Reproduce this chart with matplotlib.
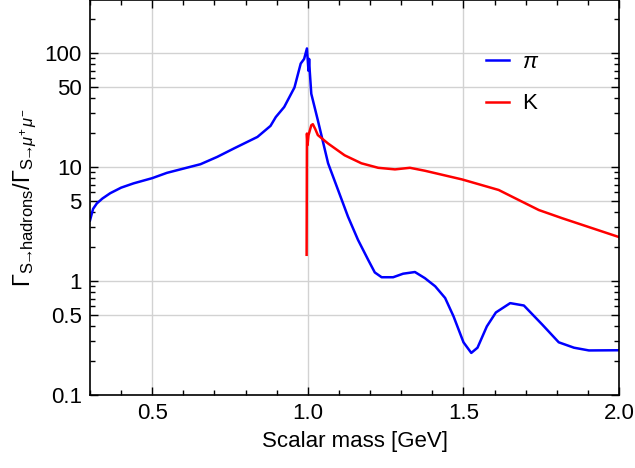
"""Scalar decay width ratio into pions and kaons vs. scalar mass."""

import matplotlib

matplotlib.use("Agg")

import matplotlib.pyplot as plt
from matplotlib.ticker import FixedLocator, LogLocator, NullFormatter

plt.rcParams["font.family"] = ["Liberation Sans", "DejaVu Sans"]
plt.rcParams["mathtext.fontset"] = "custom"
plt.rcParams["mathtext.rm"] = "Liberation Sans"
plt.rcParams["mathtext.it"] = "Liberation Sans:italic"
plt.rcParams["mathtext.sf"] = "Liberation Sans"

# values
pi_mass = [0.300, 0.310, 0.322, 0.340, 0.365, 0.400, 0.440, 0.500, 0.547, 0.600,
           0.655, 0.709, 0.763, 0.838, 0.880, 0.897, 0.924, 0.957, 0.977, 0.988,
           0.997, 1.002, 1.004, 1.006, 1.011, 1.032, 1.065, 1.097, 1.129, 1.161,
           1.194, 1.215, 1.237, 1.274, 1.306, 1.344, 1.376, 1.409, 1.441, 1.468,
           1.500, 1.525, 1.545, 1.575, 1.604, 1.650, 1.694, 1.753, 1.806, 1.855,
           1.903, 2.000]
pi_ratio = [3.4, 4.3, 4.8, 5.3, 5.9, 6.6, 7.2, 8.0, 8.9, 9.7,
            10.6, 12.3, 14.6, 18.4, 23.0, 27.5, 33.7, 50.0, 81.0, 89.0,
            110.0, 70.0, 89.0, 70.0, 44.0, 25.8, 10.8, 6.3, 3.67, 2.3,
            1.53, 1.19, 1.08, 1.08, 1.16, 1.20, 1.06, 0.90, 0.71, 0.49,
            0.29, 0.234, 0.26, 0.40, 0.53, 0.64, 0.61, 0.415, 0.29, 0.26,
            0.246, 0.247]

k_mass = [0.996, 0.997, 0.999, 1.002, 1.011, 1.016, 1.024, 1.032, 1.065, 1.118,
          1.172, 1.226, 1.280, 1.328, 1.376, 1.495, 1.613, 1.656, 1.742, 1.817,
          2.000]
k_ratio = [1.70, 19.7, 15.6, 19.0, 23.3, 23.8, 21.5, 19.1, 16.1, 12.7,
           10.8, 9.86, 9.55, 9.86, 9.29, 7.8, 6.3, 5.5, 4.2, 3.56,
           2.43]

x_major = [0.5, 1.0, 1.5, 2.0]
x_labels = ["0.5", "1.0", "1.5", "2.0"]
y_major = [0.1, 0.5, 1, 5, 10, 50, 100]
y_labels = ["0.1", "0.5", "1", "5", "10", "50", "100"]

fig = plt.figure(figsize=(6.35, 4.68), dpi=100)
ax = fig.add_axes([0.1417, 0.156, 0.8333, 0.843])

ax.plot(pi_mass, pi_ratio, color="#0000ff", lw=1.8, label=r"$\pi$")
ax.plot(k_mass, k_ratio, color="#ff0000", lw=1.8, label="K")

ax.set_yscale("log")
ax.set_xlim(0.3, 2.0)
ax.set_ylim(0.1, 290)

ax.xaxis.set_major_locator(FixedLocator(x_major))
ax.set_xticklabels(x_labels)
ax.xaxis.set_minor_locator(FixedLocator([v / 10 for v in range(3, 21)]))
ax.yaxis.set_major_locator(FixedLocator(y_major))
ax.set_yticklabels(y_labels)
ax.yaxis.set_minor_locator(LogLocator(base=10, subs=range(2, 10)))
ax.yaxis.set_minor_formatter(NullFormatter())

ax.tick_params(which="both", direction="in", top=True, right=True,
               labelsize=16, width=1, color="black")
ax.tick_params(which="major", length=6, pad=6)
ax.tick_params(which="minor", length=3.5)
ax.grid(True, which="major", color="#d2d2d2", lw=1)
for spine in ax.spines.values():
    spine.set_linewidth(1.2)

ax.set_xlabel("Scalar mass [GeV]", fontsize=16, labelpad=5)
ax.set_ylabel(r"$\Gamma_{\mathrm{S\!\!\rightarrow\!\!hadrons}}/"
              r"\Gamma_{\mathrm{S\!\!\rightarrow\!\!}\mu^{+}\,\mu^{-}}$",
              fontsize=17, labelpad=4)

ax.legend(loc="upper left", bbox_to_anchor=(0.749, 0.870), frameon=False,
          fontsize=16, handlelength=1.0, handletextpad=0.6, labelspacing=0.93,
          borderpad=0, borderaxespad=0)

fig.savefig("out.png", dpi=100)
